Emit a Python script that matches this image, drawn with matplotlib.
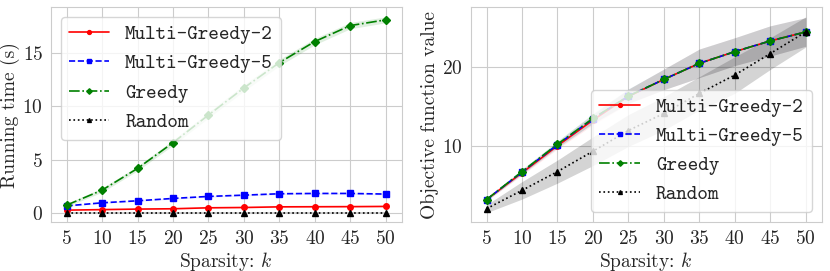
import numpy as np
import matplotlib
matplotlib.use('Agg')
import matplotlib.pyplot as plt
import seaborn as sns

sns.set_style('whitegrid')
plt.rcParams['font.family'] = ['cmr10', 'DejaVu Serif']
plt.rcParams['mathtext.fontset'] = 'cm'
plt.rcParams['axes.formatter.use_mathtext'] = True
plt.rcParams['axes.unicode_minus'] = False

# sparsity values
k = [5, 10, 15, 20, 25, 30, 35, 40, 45, 50]

# running time (s)
time_mg2 = [0.25, 0.30, 0.35, 0.38, 0.47, 0.50, 0.56, 0.57, 0.58, 0.60]
time_mg5 = [0.65, 0.94, 1.13, 1.35, 1.54, 1.66, 1.79, 1.82, 1.82, 1.76]
time_greedy = [0.72, 2.13, 4.17, 6.59, 9.19, 11.74, 14.12, 16.10, 17.60, 18.14]
time_random = [0.02, 0.02, 0.02, 0.02, 0.02, 0.02, 0.02, 0.02, 0.02, 0.02]
time_std_mg2 = [0.03, 0.04, 0.04, 0.05, 0.05, 0.06, 0.06, 0.06, 0.06, 0.06]
time_std_mg5 = [0.05, 0.06, 0.06, 0.07, 0.07, 0.08, 0.08, 0.08, 0.08, 0.08]
time_std_greedy = [0.15, 0.2, 0.22, 0.25, 0.28, 0.3, 0.3, 0.3, 0.3, 0.28]
time_std_random = [0.01] * 10

# objective function value
obj_mg2 = [3.28, 6.65, 10.05, 13.28, 16.25, 18.4, 20.42, 21.89, 23.24, 24.37]
obj_mg5 = [3.28, 6.75, 10.2, 13.45, 16.3, 18.4, 20.42, 21.89, 23.24, 24.37]
obj_greedy = [3.28, 6.8, 10.25, 13.49, 16.3, 18.4, 20.42, 21.89, 23.24, 24.37]
obj_random = [2.13, 4.44, 6.8, 9.36, 11.97, 14.12, 16.64, 18.95, 21.65, 24.37]
obj_std = [0.15, 0.3, 0.4, 0.6, 0.9, 1.3, 1.8, 1.75, 1.9, 1.8]
obj_std_random = [0.5, 1.1, 1.45, 1.8, 2.0, 2.1, 2.1, 2.3, 2.0, 1.9]

styles = [('Multi-Greedy-2', 'r', '-', 'o'),
          ('Multi-Greedy-5', 'b', '--', 's'),
          ('Greedy', 'g', '-.', 'D'),
          ('Random', 'k', ':', '^')]
band_alpha = [0.08, 0.08, 0.12, 0.17]

fig, axes = plt.subplots(1, 2, figsize=(8.3, 2.71), dpi=100)
plt.subplots_adjust(left=0.061, right=0.99, bottom=0.179, top=0.974, wspace=0.196)

panels = [
    (axes[0], [time_mg2, time_mg5, time_greedy, time_random],
     [time_std_mg2, time_std_mg5, time_std_greedy, time_std_random],
     'Running time (s)', 'upper left'),
    (axes[1], [obj_mg2, obj_mg5, obj_greedy, obj_random],
     [obj_std, obj_std, obj_std, obj_std_random],
     'Objective function value', 'lower right'),
]

for ax, ys, stds, ylabel, loc in panels:
    for (name, c, ls, m), a, y, s in zip(styles, band_alpha, ys, stds):
        y = np.array(y)
        s = np.array(s)
        ax.plot(k, y, color=c, linestyle=ls, marker=m, markersize=4,
                linewidth=1.2, label=name)
        ax.fill_between(k, y - s, y + s, color=c, alpha=a, linewidth=0)
    ax.set_xticks(k)
    ax.set_xlabel(r'Sparsity: $k$', fontsize=14, labelpad=1)
    ax.set_ylabel(ylabel, fontsize=14, labelpad=2)
    ax.tick_params(labelsize=14, pad=2)
    ax.legend(loc=loc, prop={'family': 'cmtt10', 'size': 14.5},
              markerscale=0.7)

axes[0].set_yticks([0, 5, 10, 15])
axes[1].set_yticks([10, 20])

plt.savefig('out.png', dpi=100)
